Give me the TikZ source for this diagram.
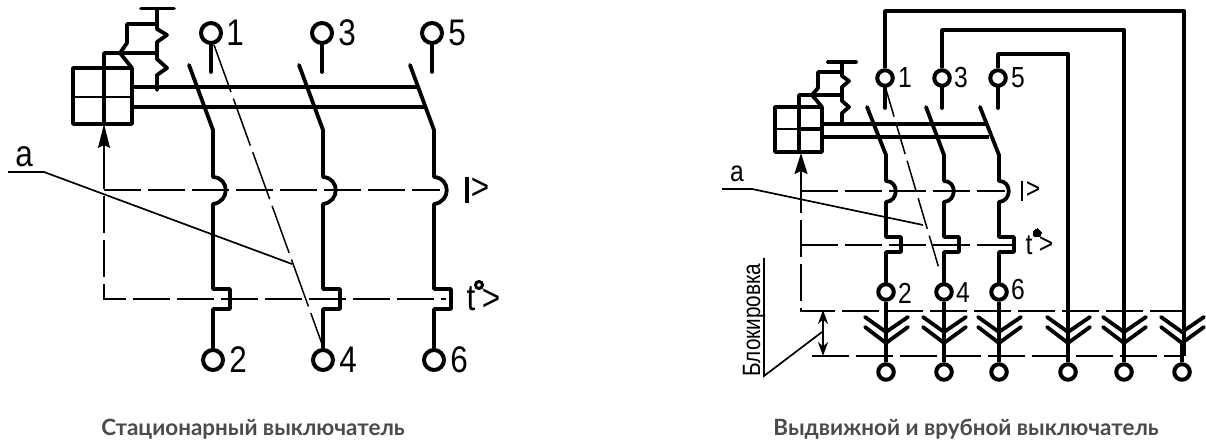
\documentclass[tikz,border=0pt]{standalone}
\usepackage{fontspec}
\setmainfont{Liberation Sans}
\newfontfamily\narrowf[FakeStretch=0.85]{Liberation Sans}
\newfontfamily\blkf[FakeStretch=0.83]{Liberation Sans}
\newfontfamily\capf{Lato}
\usetikzlibrary{arrows.meta,calc}
\definecolor{captiongrey}{HTML}{4A4A4A}
\tikzset{
  x=1pt,y=-1pt,
  wire/.style={line width=3.8pt,line cap=round,line join=round},
  wireb/.style={line width=4pt,line cap=butt,line join=miter},
  link/.style={line width=2pt,dash pattern=on 37pt off 7pt},
  thinlink/.style={line width=1.5pt,dash pattern=on 50pt off 7pt},
  lead/.style={line width=1.7pt},
  termL/.style={circle,draw,line width=4pt,minimum size=20pt,inner sep=0pt},
  termR/.style={circle,draw,line width=4pt,minimum size=15.5pt,inner sep=0pt},
  bigtxt/.style={inner sep=0pt,font=\narrowf\fontsize{37}{37}\selectfont},
  smalltxt/.style={inner sep=0pt,font=\narrowf\fontsize{29}{29}\selectfont},
  captxt/.style={inner sep=0pt,text=captiongrey,font=\capf\bfseries\fontsize{22.4}{23}\selectfont},
  dot/.style={circle,fill=black,draw,line width=0pt,minimum size=#1,inner sep=0pt},
}
\begin{document}
\begin{tikzpicture}
\useasboundingbox (0,0) rectangle (1206,443);
% ===== LEFT =====
\node[termL] (a1) at (211,33) {};
\node[termL] (a3) at (322,33) {};
\node[termL] (a5) at (432,33) {};
\node[termL] (a2) at (213,360) {};
\node[termL] (a4) at (323,360) {};
\node[termL] (a6) at (434,360) {};
\node[bigtxt] (la1) at (235,33) {1};
\node[bigtxt] (la3) at (347,33) {3};
\node[bigtxt] (la5) at (457,33) {5};
\node[bigtxt] (la2) at (238,360) {2};
\node[bigtxt] (la4) at (348,360) {4};
\node[bigtxt] (la6) at (459,360) {6};
\foreach \n/\x in {a1/211,a3/322,a5/432}{\coordinate (\n s) at (\x,72); \draw[wire] (\n) -- (\n s);}
\foreach \n/\x in {a2/213,a4/323,a6/434}{
  \draw[wire] (\x-24,65) -- (\x,130) -- (\x,177)
    .. controls (\x+17,178) and (\x+17,202) .. (\x,204)
    -- (\x,289) -- (\x+17,289) -- (\x+17,309) -- (\x,309) -- (\n);
}
% mechanism
\coordinate (ta) at (141,8.5); \coordinate (tb) at (174,8.5);
\draw[wire] (ta) -- (tb);
\draw[wire] (157,8.5) -- (157,29) -- (167,35) -- (157,42) -- (157,59) -- (167,68) -- (157,75) -- (157,90);
\draw[wire] (157,24) -- (127,24) -- (127,43) -- (120,53) -- (157,53);
\draw[wire] (104,124) -- (104,53) -- (120,53) -- (132,68);
\draw[wire] (73,68) rectangle (132,124);
\draw[line width=2.6pt] (73,97) -- (132,97);
\draw[wireb] (132,87) -- (418,87);
\draw[wireb] (132,107) -- (425,107);
% links
\draw[link] (104,190) -- (440,190);
\draw[link] (104,152) -- (104,299) -- (446,299);
\draw[line width=1.8pt,-{Stealth[length=24pt,width=12pt,inset=3pt]}] (104,152) -- (104,124);
\draw[thinlink] (a1) ++(3,12) -- (322,344);
\draw[lead] (8,172) -- (44,172) -- (292,264);
\node[bigtxt] (lab1) at (24,157) {a};
\draw[line width=3.4pt] (467,177) -- (467,203);
\node[bigtxt] (g1) at (480,189) {>};
\node[bigtxt] (t1) at (471,299) {t};
\node[circle,draw,line width=3pt,minimum size=7pt,inner sep=0pt] (d1) at (479,285) {};
\node[bigtxt] (g2) at (491,300) {>};
\node[captxt] (c1) at (253,429) {Стационарный выключатель};
% ===== RIGHT =====
\foreach \n/\x in {b1/885,b3/942,b5/998}{\node[termR] (\n) at (\x,78) {};}
\foreach \n/\x in {b2/886,b4/944,b6/999}{\node[termR] (\n) at (\x,292) {};}
\foreach \n/\x in {p1/886,p2/944,p3/999,p4/1068,p5/1124,p6/1182}{\node[termR] (\n) at (\x,372) {};}
\node[smalltxt] (lb1) at (905,78) {1};
\node[smalltxt] (lb3) at (961,78) {3};
\node[smalltxt] (lb5) at (1018,78) {5};
\node[smalltxt] (lb2) at (905,293) {2};
\node[smalltxt] (lb4) at (963,293) {4};
\node[smalltxt] (lb6) at (1018,290) {6};
\foreach \n/\x in {b1/885,b3/942,b5/998}{\coordinate (\n s) at (\x,108); \draw[wire] (\n) -- (\n s);}
\foreach \n/\x/\xb in {b2/886/867,b4/944/926,b6/999/980}{
  \draw[wire] (\xb,107) -- (\x,155) -- (\x,181)
    .. controls (\x+13,181) and (\x+13,201) .. (\x,202)
    -- (\x,237) -- (\x+15,237) -- (\x+15,252) -- (\x,252) -- (\n);
}
% feeders
\draw[wire,line cap=butt] (b1) -- (885,11) -- (1184,11) -- (1184,356);
\draw[wire,line cap=butt] (b3) -- (942,30) -- (1124,30) -- (1124,356);
\draw[wire,line cap=butt] (b5) -- (998,54) -- (1068,54) -- (1068,356);
% lower contacts
\foreach \n/\x/\u in {p1/886/b2,p2/944/b4,p3/999/b6}{\draw[wire,line cap=butt] (\u) -- (\n);}
\foreach \n/\x in {p4/1068,p5/1124,p6/1182}{\draw[wire,line cap=butt] (\x,340) -- (\n);}
\foreach \x in {886,944,999,1068,1124,1182}{
  \draw[line width=3.8pt,line cap=round,line join=miter] (\x-21,317) -- (\x,332) -- (\x+22,317);
  \draw[line width=3.8pt,line cap=round,line join=miter] (\x-21,327) -- (\x,343) -- (\x+22,327);
}
% mechanism
\coordinate (tc) at (828,62); \coordinate (td) at (856,62);
\draw[wire] (tc) -- (td);
\draw[wire] (842,62) -- (842,76) -- (849,81) -- (842,87) -- (842,101) -- (849,107) -- (842,113) -- (842,124);
\draw[wire] (842,72) -- (818,72) -- (818,88) -- (812,95) -- (842,95);
\draw[wire] (799,152) -- (799,95) -- (812,95) -- (822,107);
\draw[wire] (775,107) rectangle (822,152);
\draw[line width=2.6pt] (775,129) -- (799,129);
\draw[line width=4.4pt] (799,129) -- (822,129);
\draw[line width=4.4pt] (822,124) -- (842,124);
\draw[line width=3.2pt] (822,124) -- (985,124);
\draw[line width=3.8pt] (822,137) -- (989,137);
% links
\draw[link] (801,191) -- (1005,191);
\draw[link] (801,245) -- (1012,245);
\draw[link] (801,176) -- (801,311) -- (1182,311);
\draw[link] (812,356) -- (1182,356);
\draw[line width=1.8pt,-{Stealth[length=21pt,width=13pt,inset=3pt]}] (801,176) -- (801,153);
\draw[thinlink,dash pattern=on 32pt off 7pt] (b1) ++(0,8) -- (940,272);
\draw[lead] (722,189) -- (752,189) -- (923,225);
\node[smalltxt] (lab2) at (737,174) {a};
\draw[line width=2.8pt] (1022,181) -- (1022,201);
\node[smalltxt] (g3) at (1033,190) {>};
\node[smalltxt] (t2) at (1029,245) {t};
\node[dot=8pt] (d2) at (1037,233) {};
\node[smalltxt] (g4) at (1046,245) {>};
% blocking
\coordinate (bt) at (823,310); \coordinate (bb) at (823,356);
\draw[line width=1.7pt,{Stealth[length=14pt,width=10pt]}-{Stealth[length=14pt,width=10pt]}] (bt) -- (bb);
\draw[lead] (764,258) -- (764,376) -- (822,332);
\node[inner sep=0pt,rotate=90,font=\blkf\fontsize{25}{25}\selectfont] (blk) at (754,320) {Блокировка};
\node[captxt] (c2) at (966,429) {Выдвижной и врубной выключатель};
\end{tikzpicture}
\end{document}
